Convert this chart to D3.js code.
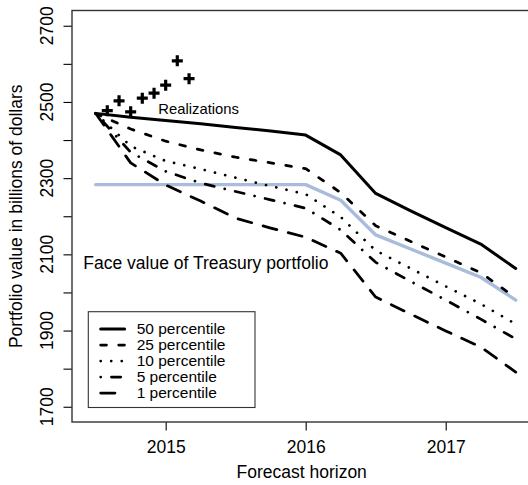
<!DOCTYPE html>
<html><head><meta charset="utf-8">
<script src="https://cdn.jsdelivr.net/npm/d3@7"></script>
<style>html,body{margin:0;padding:0;background:#fff;} svg{display:block;font-family:"Liberation Sans",Arial,Helvetica,sans-serif;}</style>
</head><body><svg id="c" width="528" height="485"></svg>
<script>
// ---- data ----
const horizon = [2014.5, 2014.75, 2015, 2015.25, 2015.5, 2015.75, 2016, 2016.25, 2016.5, 2016.75, 2017, 2017.25, 2017.5];
const p50 = [2470, 2460, 2451, 2443, 2433, 2424, 2413, 2361, 2260, 2214, 2170, 2127, 2063];
const p25 = [2470, 2429, 2397, 2374, 2355, 2340, 2325, 2262, 2175, 2134, 2093, 2052, 1986];
const p10 = [2470, 2384, 2345, 2324, 2301, 2279, 2258, 2198, 2110, 2063, 2016, 1970, 1917];
const p5  = [2470, 2368, 2318, 2287, 2265, 2243, 2221, 2164, 2079, 2029, 1980, 1930, 1878];
const p1  = [2470, 2340, 2282, 2240, 2195, 2169, 2145, 2103, 1988, 1943, 1899, 1857, 1791];
const faceValue = [2283, 2283, 2283, 2283, 2283, 2283, 2283, 2242, 2151, 2114, 2077, 2040, 1980];
const realizationDates = [2014.583, 2014.667, 2014.75, 2014.833, 2014.917, 2015, 2015.083, 2015.167];
const realizationValues = [2477, 2503, 2474, 2510, 2523, 2544, 2608, 2561];
const legendLabels = ["50 percentile", "25 percentile", "10 percentile", "5 percentile", "1 percentile"];
const xTicks = [2015, 2016, 2017];
const yTicks = [1700, 1800, 1900, 2000, 2100, 2200, 2300, 2400, 2500, 2600, 2700];
const yTickLabels = [1700, 1900, 2100, 2300, 2500, 2700];

// ---- layout ----
const svg = d3.select("#c");
const L = 72, R = 531.4, T = 10.5, B = 422;
const x = d3.scaleLinear().domain([2014.331, 2017.612]).range([L, R]);
const y = d3.scaleLinear().domain([1660, 2740]).range([B, T]);

const styles = [
  {w: 3.0, dash: null},
  {w: 2.75, dash: "5.75,12.25"},
  {w: 2.75, dash: "0.01,10.5"},
  {w: 2.75, dash: "0.01,10.75,9.25,10.75"},
  {w: 2.75, dash: "14.25,11.75"}
];
const series = [p50, p25, p10, p5, p1];

const line = d3.line().x((d, i) => x(horizon[i])).y(d => y(d));

// face value line
svg.append("path").datum(faceValue).attr("d", line)
  .attr("fill", "none").attr("stroke", "#a9bcdb").attr("stroke-width", 3.4)
  .attr("stroke-linejoin", "round").attr("stroke-linecap", "round");

series.forEach((s, k) => {
  svg.append("path").datum(s).attr("d", line)
    .attr("fill", "none").attr("stroke", "#000").attr("stroke-width", styles[k].w)
    .attr("stroke-dasharray", styles[k].dash)
    .attr("stroke-linejoin", "round").attr("stroke-linecap", "round");
});

// realizations
svg.append("g").selectAll("path").data(realizationValues).join("path")
  .attr("transform", (d, i) => `translate(${x(realizationDates[i])},${y(d)})`)
  .attr("d", "M-5.5,0H5.5M0,-5.5V5.5")
  .attr("stroke", "#000").attr("stroke-width", 3.2).attr("fill", "none");

// annotations
svg.append("text").attr("x", 158.3).attr("y", 114).attr("font-size", 14.8).text("Realizations");
svg.append("text").attr("x", 83.3).attr("y", 269.3).attr("font-size", 17.5).text("Face value of Treasury portfolio");

// axes
const ax = svg.append("g").attr("transform", `translate(0,${B})`)
  .call(d3.axisBottom(x).tickValues(xTicks).tickSize(8.5).tickSizeOuter(0).tickFormat(d3.format("d")));
ax.select(".domain").remove();
ax.selectAll("line").attr("stroke", "#000").attr("stroke-width", 1.1);
ax.selectAll("text").attr("font-size", 17.5).attr("fill", "#000").attr("dy", null).attr("y", 30.7)
  .attr("font-family", "Liberation Sans, Arial, sans-serif");

const ay = svg.append("g").attr("transform", `translate(${L},0)`)
  .call(d3.axisLeft(y).tickValues(yTicks).tickSize(8.5).tickSizeOuter(0).tickFormat(""));
ay.select(".domain").remove();
ay.selectAll("line").attr("stroke", "#000").attr("stroke-width", 1.1);

svg.append("g").selectAll("text").data(yTickLabels).join("text")
  .attr("transform", d => `translate(53,${y(d)}) rotate(-90)`)
  .attr("text-anchor", "middle").attr("font-size", 17.5).text(d => d);

// box
svg.append("rect").attr("x", L).attr("y", T).attr("width", R - L).attr("height", B - T)
  .attr("fill", "none").attr("stroke", "#333").attr("stroke-width", 1.4);

// axis titles
svg.append("text").attr("x", (L + R) / 2).attr("y", 478).attr("text-anchor", "middle")
  .attr("font-size", 17.5).text("Forecast horizon");
svg.append("text").attr("transform", `translate(21.7,${(T + B) / 2}) rotate(-90)`)
  .attr("text-anchor", "middle").attr("font-size", 17.5).text("Portfolio value in billions of dollars");

// legend
const lg = svg.append("g");
lg.append("rect").attr("x", 88.3).attr("y", 311.7).attr("width", 166.7).attr("height", 95.8)
  .attr("fill", "#fff").attr("stroke", "#333").attr("stroke-width", 1.1);
legendLabels.forEach((lab, k) => {
  const yy = 329 + k * 16;
  lg.append("line").attr("x1", 100.7).attr("x2", 124.6).attr("y1", yy).attr("y2", yy)
    .attr("stroke", "#000").attr("stroke-width", styles[k].w)
    .attr("stroke-dasharray", styles[k].dash).attr("stroke-linecap", "round");
  lg.append("text").attr("x", 136.7).attr("y", yy + 5.3).attr("font-size", 15.5).text(lab);
});
</script></body></html>
